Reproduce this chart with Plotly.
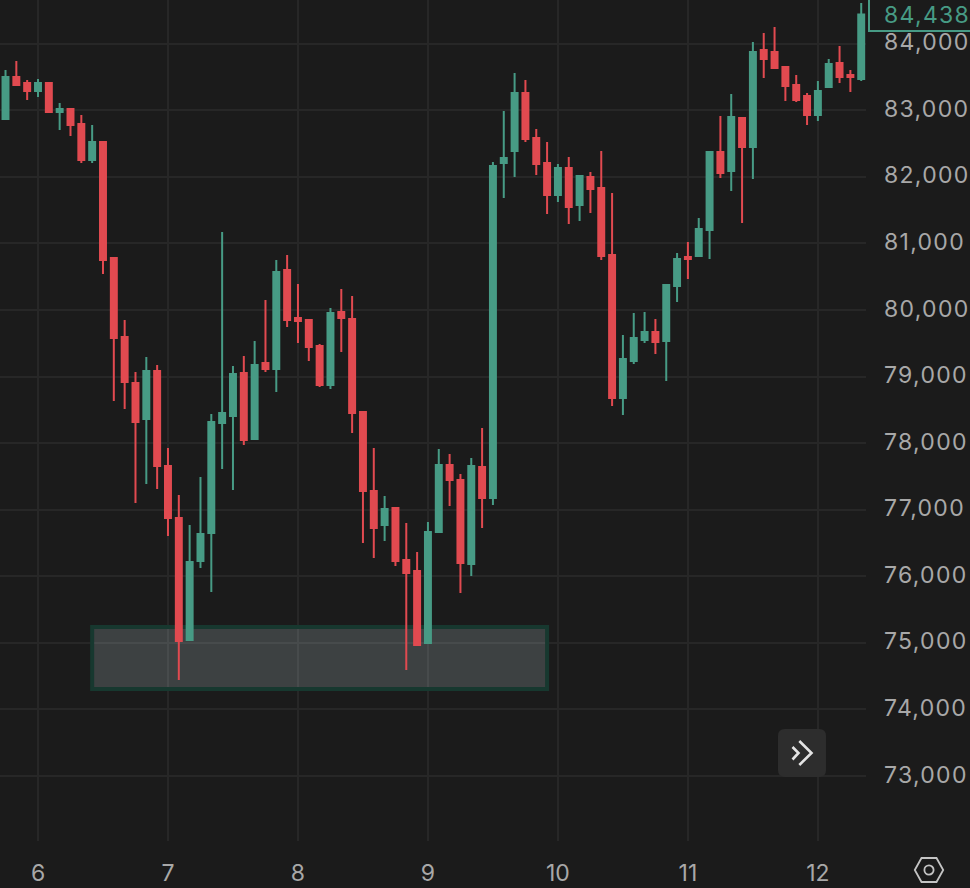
import pandas as pd
import plotly.graph_objects as go

first_bar = "2025-04-05 18:00"
bar_count = 80

opens = [82869,83499,83409,83289,83409,82974,83019,82794,82253,82523,80781,79594,78903,78363,79084,77657,
         76876,75043,76230,76650,78303,78408,79054,78062,79204,79114,80601,79880,79850,79459,78873,79970,
         79865,78468,77281,76770,77026,76245,76080,74998,76665,77672,77446,76185,77642,77176,82208,82388,
         83259,82583,82208,81727,82133,81577,81997,81832,80826,78678,79234,79549,79669,79534,80360,80796,
         80811,81201,82373,82088,82884,82448,83905,83875,83650,83379,83214,82929,83349,83710,83529,83469]
closes = [83499,83379,83289,83409,82974,83019,82778,82253,82523,80751,79579,78918,78318,79084,77657,76876,
          75028,76215,76635,78318,78453,79039,78047,79174,79114,80571,79850,79835,79444,78873,79955,79880,
          78453,77281,76725,77011,76230,76050,74968,76665,77672,77446,76200,77657,77176,82163,82283,83259,
          82568,82193,81727,82133,81547,82012,81817,80811,78678,79264,79579,79669,79519,80375,80766,80766,
          81216,82373,82058,82899,82448,83875,83770,83635,83364,83154,82929,83289,83695,83499,83499,84438]
highs = [83605,83740,83454,83469,83424,83109,83019,82929,82778,82538,80781,79850,79069,79294,79174,77927,
         77221,76770,77491,78438,81171,79159,79309,79534,80150,80751,80826,80390,79850,79489,80030,80315,
         80210,78483,77927,77206,77026,76801,76365,76816,77912,77837,77537,77777,78227,82223,82989,83560,
         83454,82718,82523,82193,82298,82027,82073,82388,81757,79624,79955,79970,79865,80375,80856,81021,
         81382,82373,82914,83244,82884,84025,84160,84250,83665,83529,83259,83439,83770,83965,83605,84611]
lows = [82869,83379,83154,83199,82974,82703,82613,82208,82208,80541,78633,78513,77101,77386,77311,76605,
        74442,75028,76125,75764,77612,77296,77972,78062,79069,78768,79744,79504,79234,78843,78813,79369,
        78152,76500,76275,76530,76155,74593,74968,74983,76665,77056,75749,76004,76725,77071,81682,81997,
        82523,82027,81442,81622,81292,81337,81457,80751,78558,78423,79189,79504,79339,78933,80120,80465,
        80811,80766,81982,81787,81307,81967,83484,83620,83139,83124,82778,82839,83349,83409,83274,83439]

price_ticks = [73000,74000,75000,76000,77000,78000,79000,80000,81000,82000,83000,84000]
day_ticks = ["2025-04-06","2025-04-07","2025-04-08","2025-04-09","2025-04-10","2025-04-11","2025-04-12"]
day_labels = ["6","7","8","9","10","11","12"]

view_start = "2025-04-05 16:59"
view_end = "2025-04-12 08:53"
price_low = 72024
price_high = 84656

zone_start = "2025-04-06 10:00"
zone_end = "2025-04-09 22:00"
zone_low = 74307
zone_high = 75238
last_price_label = "84,438"

GREEN = "#479b85"
RED = "#e14a50"
BG = "#1b1b1b"
GRID = "#272727"
LABEL = "#a8a8a8"
FONT = "Inter"

W, H = 970, 888
PLOT_W, PLOT_H = 866, 841


def px(x, y):
    return x / PLOT_W, (PLOT_H - y) / PLOT_H


def path(points, close=False):
    parts = []
    for i, (x, y) in enumerate(points):
        a, b = px(x, y)
        parts.append(f"{'M' if i == 0 else 'L'} {a:.5f} {b:.5f}")
    return " ".join(parts) + (" Z" if close else "")


def rounded(x0, y0, x1, y1, r):
    a0, b0 = px(x0, y0)
    a1, b1 = px(x1, y1)
    rx, ry = r / PLOT_W, r / PLOT_H
    return (f"M {a0+rx:.5f} {b0:.5f} L {a1-rx:.5f} {b0:.5f} Q {a1:.5f} {b0:.5f} {a1:.5f} {b0-ry:.5f} "
            f"L {a1:.5f} {b1+ry:.5f} Q {a1:.5f} {b1:.5f} {a1-rx:.5f} {b1:.5f} "
            f"L {a0+rx:.5f} {b1:.5f} Q {a0:.5f} {b1:.5f} {a0:.5f} {b1+ry:.5f} "
            f"L {a0:.5f} {b0-ry:.5f} Q {a0:.5f} {b0:.5f} {a0+rx:.5f} {b0:.5f} Z")


times = pd.date_range(first_bar, periods=bar_count, freq="2h")

fig = go.Figure(go.Candlestick(
    x=times, open=opens, high=highs, low=lows, close=closes,
    whiskerwidth=0,
    increasing=dict(line=dict(color=GREEN, width=2), fillcolor=GREEN),
    decreasing=dict(line=dict(color=RED, width=2), fillcolor=RED),
    showlegend=False, hoverinfo="skip",
))

shapes = [
    dict(type="rect", xref="x", yref="y", x0=zone_start, x1=zone_end, y0=zone_low, y1=zone_high,
         fillcolor="rgba(200,220,225,0.2)", line=dict(color="#17382f", width=4), layer="between"),
    # last-price box
    dict(type="path", xref="paper", yref="paper",
         path=path([(869, -5), (869, 31), (975, 31)]),
         line=dict(color=GREEN, width=2), fillcolor="rgba(0,0,0,0)"),
    # scroll-to-latest button
    dict(type="path", xref="paper", yref="paper", path=rounded(778, 729, 826, 777, 7),
         fillcolor="#2d2d2d", line=dict(width=0)),
    dict(type="path", xref="paper", yref="paper", path=path([(799.3, 741), (811.5, 753), (799.3, 765)]),
         line=dict(color="#e4e4e4", width=2.6), fillcolor="rgba(0,0,0,0)"),
    dict(type="path", xref="paper", yref="paper", path=path([(792.5, 747), (798.5, 753), (792.5, 759.5)]),
         line=dict(color="#e4e4e4", width=2.6), fillcolor="rgba(0,0,0,0)"),
    # settings hexagon
    dict(type="path", xref="paper", yref="paper",
         path=path([(914.8, 870), (921.5, 858), (936.5, 858), (943.2, 870), (936.5, 882), (921.5, 882)], close=True),
         line=dict(color="#c4c4c4", width=1.8), fillcolor="rgba(0,0,0,0)"),
    dict(type="circle", xref="paper", yref="paper",
         x0=px(924.4, 0)[0], x1=px(933.6, 0)[0], y0=px(0, 874.6)[1], y1=px(0, 865.4)[1],
         line=dict(color="#c4c4c4", width=1.8), fillcolor="rgba(0,0,0,0)"),
]

fig.update_layout(
    width=W, height=H,
    margin=dict(l=0, r=W - PLOT_W, t=0, b=H - PLOT_H, pad=0),
    paper_bgcolor=BG, plot_bgcolor=BG,
    boxgap=0.45, boxgroupgap=0,
    font=dict(family=FONT, color=LABEL, size=23),
    showlegend=False,
    shapes=shapes,
    xaxis=dict(range=[view_start, view_end], type="date", rangeslider=dict(visible=False),
               tickmode="array", tickvals=day_ticks, ticktext=day_labels,
               showgrid=True, gridcolor=GRID, gridwidth=2, zeroline=False, showline=False,
               ticks="", ticklabelstandoff=16, tickfont=dict(size=23, color=LABEL, family=FONT),
               fixedrange=True),
    yaxis=dict(range=[price_low, price_high], side="right",
               tickmode="array", tickvals=price_ticks, tickformat=",",
               showgrid=True, gridcolor=GRID, gridwidth=2, zeroline=False, showline=False,
               ticks="", ticklabelstandoff=17, tickfont=dict(size=23, color=LABEL, family=FONT),
               fixedrange=True),
    annotations=[dict(xref="paper", yref="y", x=px(886, 0)[0], y=closes[-1], xanchor="left", yanchor="middle",
                      text=last_price_label, showarrow=False, font=dict(size=23, color=GREEN, family=FONT))],
)

post = """
document.body.style.margin='0';
document.documentElement.style.background='#1b1b1b';
document.querySelectorAll('.ytick text, .annotation-text').forEach(function(t){t.style.letterSpacing='1.3px';});
document.querySelectorAll('.ytick text').forEach(function(t){t.setAttribute('y', parseFloat(t.getAttribute('y'))-1.5);});
"""
fig.write_html("out.html", config=dict(displayModeBar=False), post_script=post)
